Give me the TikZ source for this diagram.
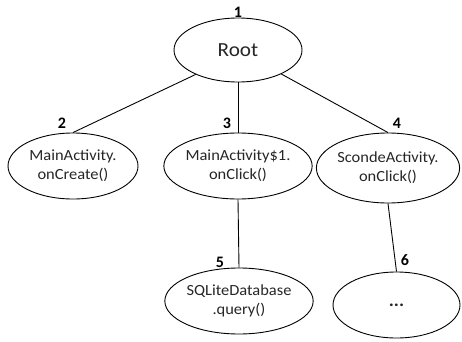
\documentclass[tikz,border=0pt]{standalone}
\usepackage{fontspec}
\setmainfont{Carlito}
\newfontfamily\nodefont[FakeStretch=1.06]{Carlito}
\usetikzlibrary{shapes.geometric}
\begin{document}
\begin{tikzpicture}[x=1pt,y=1pt,
  tnode/.style={draw, ellipse, line width=0.9pt, inner sep=0pt, minimum width=128pt, minimum height=66pt, align=center, font=\nodefont\fontsize{15.5}{19}\selectfont, text=black!85},
  numlbl/.style={font=\bfseries\fontsize{16}{16}\selectfont, inner sep=0pt},
  edge/.style={line width=0.9pt}]
\useasboundingbox (0,0) rectangle (462,341);
\node[tnode, minimum width=128pt, minimum height=64pt, font=\nodefont\fontsize{20}{22}\selectfont] (root) at (238,291) {Root};
\node[tnode, minimum width=130pt] (n2) at (73,175) {MainActivity.\\onCreate()};
\node[tnode, minimum width=126pt] (n3) at (238,175) {MainActivity\$1.\\onClick()};
\node[tnode, minimum width=130pt, minimum height=70pt] (n4) at (388,173) {ScondeActivity.\\onClick()};
\node[tnode] (n5) at (239,40) {SQLiteDatabase\\.query()};
\node[tnode, minimum width=127pt] (n6) at (396.5,36) {\bfseries\fontsize{18}{18}\selectfont ...};
\node[numlbl] (l1) at (238,329) {1};
\node[numlbl] (l2) at (62,218) {2};
\node[numlbl] (l3) at (227,218) {3};
\node[numlbl] (l4) at (397,218) {4};
\node[numlbl] (l5) at (220,79) {5};
\node[numlbl] (l6) at (405,81) {6};
\draw[edge] (root.210) -- (n2.north);
\draw[edge] (root.south) -- (n3.north);
\draw[edge] (root.-29) -- (n4.north);
\draw[edge] (n3.south) -- (n5.north);
\draw[edge] (n4.south) -- (n6.north);
\end{tikzpicture}
\end{document}
